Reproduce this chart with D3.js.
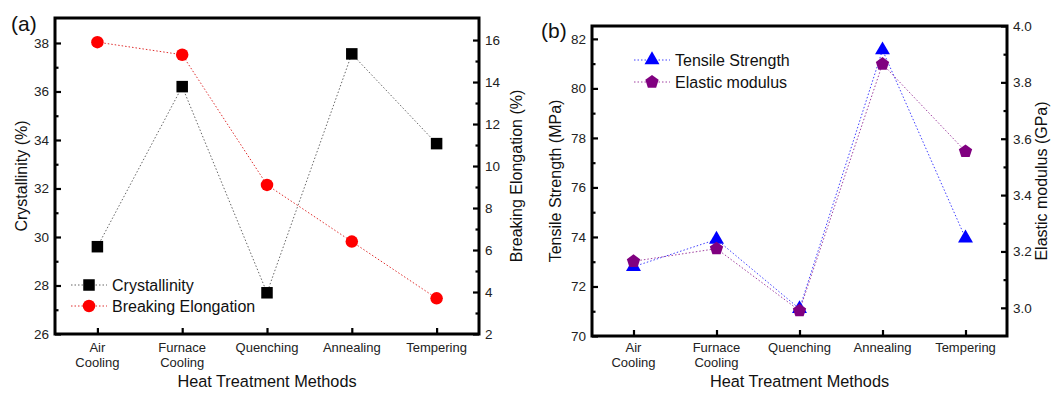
<!DOCTYPE html>
<html>
<head>
<meta charset="utf-8">
<script src="https://cdn.jsdelivr.net/npm/d3@7"></script>
<style>
  body { margin: 0; background: #fff; }
  svg { font-family: "Liberation Sans", Arial, sans-serif; }
</style>
</head>
<body>
<svg id="chart" width="1057" height="393"></svg>
<script>
// categories
const methods = [["Air", "Cooling"], ["Furnace", "Cooling"], ["Quenching"], ["Annealing"], ["Tempering"]];

// panel (a)
const crystallinity = [29.6, 36.2, 27.7, 37.55, 33.85];
const elongation = [15.9, 15.3, 9.1, 6.4, 3.7];
const aLeftTicks = [26, 28, 30, 32, 34, 36, 38];
const aRightTicks = [2, 4, 6, 8, 10, 12, 14, 16];

// panel (b)
const tensile = [72.8, 73.9, 71.1, 81.55, 73.95];
const elastic = [3.165, 3.21, 2.99, 3.865, 3.555];
const bLeftTicks = [70, 72, 74, 76, 78, 80, 82];
const bRightTicks = [3.0, 3.2, 3.4, 3.6, 3.8, 4.0];

const svg = d3.select("#chart");

// marker shapes
function marker(g, type, color, size) {
  if (type === "square") {
    g.append("rect").attr("x", -size / 2).attr("y", -size / 2)
      .attr("width", size).attr("height", size).attr("fill", color);
  } else if (type === "circle") {
    g.append("circle").attr("r", size / 2).attr("fill", color);
  } else if (type === "triangle") {
    g.append("path").attr("d", d3.symbol(d3.symbolTriangle, size * size * 0.43)()).attr("fill", color);
  } else if (type === "pentagon") {
    const r = size * 0.5;
    const pts = d3.range(5).map(i => {
      const a = -Math.PI / 2 + i * 2 * Math.PI / 5;
      return [r * Math.cos(a), r * Math.sin(a)];
    });
    g.append("path").attr("d", "M" + pts.join("L") + "Z").attr("fill", color);
  }
}

function panel(opt) {
  const g = svg.append("g");
  const x = d3.scaleLinear().domain([0.5, 5.5]).range([opt.left, opt.right]);
  const yL = d3.scaleLinear().domain(opt.leftDomain).range([opt.bottom, opt.top]);
  const yR = d3.scaleLinear().domain(opt.rightDomain).range([opt.bottom, opt.top]);

  // series
  opt.series.forEach(s => {
    const y = s.axis === "left" ? yL : yR;
    const line = d3.line().x((d, i) => x(i + 1)).y(d => y(d));
    g.append("path").datum(s.values)
      .attr("d", line).attr("fill", "none")
      .attr("stroke", s.lineColor).attr("stroke-width", 1)
      .attr("stroke-dasharray", "1.5,2");
  });
  opt.series.forEach(s => {
    const y = s.axis === "left" ? yL : yR;
    s.values.forEach((v, i) => {
      const m = g.append("g").attr("transform", `translate(${x(i + 1)},${y(v)})`);
      marker(m, s.shape, s.color, s.size);
    });
  });

  // axes (ticks inward)
  const left = g.append("g").attr("transform", `translate(${opt.left},0)`)
    .call(d3.axisLeft(yL).tickValues(opt.leftTicks).tickSizeInner(-6).tickSizeOuter(0).tickPadding(6).tickFormat(opt.leftFmt));
  const leftMinor = d3.range(opt.leftTicks.length - 1).map(i => (opt.leftTicks[i] + opt.leftTicks[i + 1]) / 2);
  g.append("g").attr("transform", `translate(${opt.left},0)`)
    .call(d3.axisLeft(yL).tickValues(leftMinor).tickSizeInner(-3.5).tickSizeOuter(0).tickFormat(""));

  const right = g.append("g").attr("transform", `translate(${opt.right},0)`)
    .call(d3.axisRight(yR).tickValues(opt.rightTicks).tickSizeInner(-6).tickSizeOuter(0).tickPadding(6).tickFormat(opt.rightFmt));
  const rightMinor = d3.range(opt.rightTicks.length - 1).map(i => (opt.rightTicks[i] + opt.rightTicks[i + 1]) / 2);
  g.append("g").attr("transform", `translate(${opt.right},0)`)
    .call(d3.axisRight(yR).tickValues(rightMinor).tickSizeInner(-3.5).tickSizeOuter(0).tickFormat(""));

  g.append("g").attr("transform", `translate(0,${opt.bottom})`)
    .call(d3.axisBottom(x).tickValues([1, 2, 3, 4, 5]).tickSizeInner(-6).tickSizeOuter(0).tickFormat(""));

  g.selectAll(".tick line").attr("stroke", "#000").attr("stroke-width", 2.2);
  g.selectAll(".tick text").attr("font-size", 13.5).attr("fill", "#222");
  g.selectAll(".domain").remove();

  // frame
  g.append("rect").attr("x", opt.left).attr("y", opt.top)
    .attr("width", opt.right - opt.left).attr("height", opt.bottom - opt.top)
    .attr("fill", "none").attr("stroke", "#000").attr("stroke-width", 3);

  // category labels
  methods.forEach((lines, i) => {
    const t = g.append("text").attr("x", x(i + 1)).attr("y", 352)
      .attr("text-anchor", "middle").attr("font-size", 13).attr("fill", "#222");
    lines.forEach((l, k) => t.append("tspan").attr("x", x(i + 1)).attr("dy", k === 0 ? 0 : 14.5).text(l));
  });

  // axis titles
  g.append("text").attr("x", (opt.left + opt.right) / 2).attr("y", 387)
    .attr("text-anchor", "middle").attr("font-size", 16.3).attr("fill", "#111").text("Heat Treatment Methods");
  g.append("text").attr("transform", `translate(${opt.leftTitleX},${(opt.top + opt.bottom) / 2}) rotate(-90)`)
    .attr("text-anchor", "middle").attr("font-size", 16).attr("fill", "#111").text(opt.leftTitle);
  g.append("text").attr("transform", `translate(${opt.rightTitleX},${(opt.top + opt.bottom) / 2}) rotate(-90)`)
    .attr("text-anchor", "middle").attr("font-size", 16).attr("fill", "#111").text(opt.rightTitle);

  // panel label
  g.append("text").attr("x", opt.labelX).attr("y", opt.labelY)
    .attr("font-size", 21).attr("fill", "#111").text(opt.label);

  // legend
  opt.series.forEach((s, k) => {
    const ly = opt.legendY + k * opt.legendGap;
    g.append("line").attr("x1", opt.legendX - 18).attr("x2", opt.legendX + 18)
      .attr("y1", ly).attr("y2", ly).attr("stroke", s.lineColor)
      .attr("stroke-width", 1).attr("stroke-dasharray", "1.5,2");
    const m = g.append("g").attr("transform", `translate(${opt.legendX},${ly})`);
    marker(m, s.shape, s.color, s.size);
    g.append("text").attr("x", opt.legendX + 23).attr("y", ly + 6)
      .attr("font-size", 16).attr("fill", "#111").text(s.name);
  });
}

panel({
  left: 55, right: 479, top: 18, bottom: 334,
  leftDomain: [26, 39.03], rightDomain: [2, 17.05],
  leftTicks: aLeftTicks, rightTicks: aRightTicks,
  leftFmt: d3.format("d"), rightFmt: d3.format("d"),
  leftTitle: "Crystallinity (%)", rightTitle: "Breaking Elongation (%)",
  leftTitleX: 27, rightTitleX: 522,
  label: "(a)", labelX: 11, labelY: 31,
  legendX: 89, legendY: 285, legendGap: 21,
  series: [
    { name: "Crystallinity", values: crystallinity, axis: "left", shape: "square", color: "#000", lineColor: "#666", size: 11.5 },
    { name: "Breaking Elongation", values: elongation, axis: "right", shape: "circle", color: "#f00", lineColor: "#e03030", size: 12.5 }
  ]
});

panel({
  left: 592, right: 1007, top: 26, bottom: 336,
  leftDomain: [70, 82.52], rightDomain: [2.9, 4.0],
  leftTicks: bLeftTicks, rightTicks: bRightTicks,
  leftFmt: d3.format("d"), rightFmt: d3.format(".1f"),
  leftTitle: "Tensile Strength (MPa)", rightTitle: "Elastic modulus (GPa)",
  leftTitleX: 561, rightTitleX: 1047,
  label: "(b)", labelX: 541, labelY: 38,
  legendX: 652, legendY: 60, legendGap: 22,
  series: [
    { name: "Tensile Strength", values: tensile, axis: "left", shape: "triangle", color: "#0000ff", lineColor: "#4040ff", size: 15 },
    { name: "Elastic modulus", values: elastic, axis: "right", shape: "pentagon", color: "#800080", lineColor: "#a040a0", size: 14 }
  ]
});
</script>
</body>
</html>
